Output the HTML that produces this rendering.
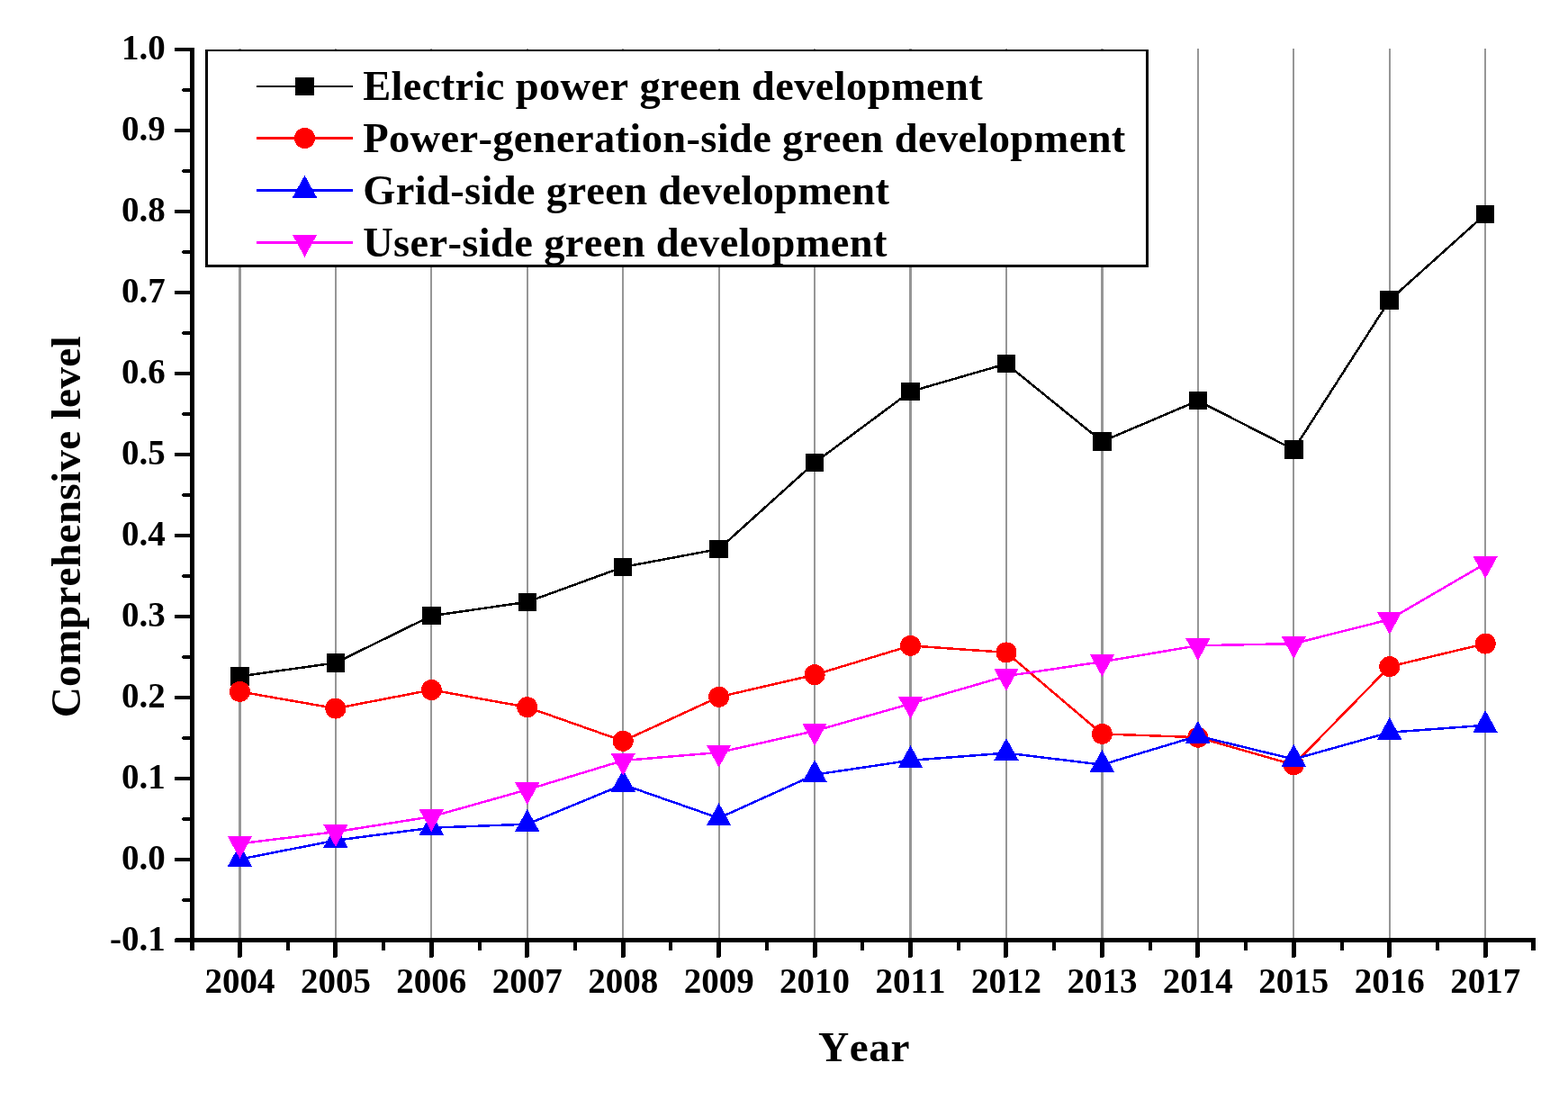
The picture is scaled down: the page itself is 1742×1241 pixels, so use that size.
<!DOCTYPE html>
<html><head><meta charset="utf-8"><title>Chart</title>
<style>html,body{margin:0;padding:0;background:#fff}svg{display:block}</style></head>
<body>
<svg width="1742" height="1241" viewBox="0 0 1742 1241" shape-rendering="crispEdges">
<rect width="1742" height="1241" fill="#fff"/>
<g stroke="#969696" stroke-width="2.3"><line x1="266.45" y1="54" x2="266.45" y2="1043"/><line x1="372.89" y1="54" x2="372.89" y2="1043"/><line x1="479.33" y1="54" x2="479.33" y2="1043"/><line x1="585.77" y1="54" x2="585.77" y2="1043"/><line x1="692.21" y1="54" x2="692.21" y2="1043"/><line x1="798.65" y1="54" x2="798.65" y2="1043"/><line x1="905.09" y1="54" x2="905.09" y2="1043"/><line x1="1011.53" y1="54" x2="1011.53" y2="1043"/><line x1="1117.97" y1="54" x2="1117.97" y2="1043"/><line x1="1224.41" y1="54" x2="1224.41" y2="1043"/><line x1="1330.85" y1="54" x2="1330.85" y2="1043"/><line x1="1437.29" y1="54" x2="1437.29" y2="1043"/><line x1="1543.73" y1="54" x2="1543.73" y2="1043"/><line x1="1650.17" y1="54" x2="1650.17" y2="1043"/></g>
<polyline fill="none" stroke="#000" stroke-width="2.5" points="266.45,751.40 372.89,736.40 479.33,684.20 585.77,668.80 692.21,630.00 798.65,610.00 905.09,514.00 1011.53,435.00 1117.97,404.20 1224.41,490.50 1330.85,445.20 1437.29,499.50 1543.73,333.50 1650.17,238.00"/>
<g fill="#000"><rect x="256.20" y="741.15" width="20.5" height="20.5"/><rect x="362.64" y="726.15" width="20.5" height="20.5"/><rect x="469.08" y="673.95" width="20.5" height="20.5"/><rect x="575.52" y="658.55" width="20.5" height="20.5"/><rect x="681.96" y="619.75" width="20.5" height="20.5"/><rect x="788.40" y="599.75" width="20.5" height="20.5"/><rect x="894.84" y="503.75" width="20.5" height="20.5"/><rect x="1001.28" y="424.75" width="20.5" height="20.5"/><rect x="1107.72" y="393.95" width="20.5" height="20.5"/><rect x="1214.16" y="480.25" width="20.5" height="20.5"/><rect x="1320.60" y="434.95" width="20.5" height="20.5"/><rect x="1427.04" y="489.25" width="20.5" height="20.5"/><rect x="1533.48" y="323.25" width="20.5" height="20.5"/><rect x="1639.92" y="227.75" width="20.5" height="20.5"/></g>
<polyline fill="none" stroke="#ff0000" stroke-width="2.5" points="266.45,768.40 372.89,787.10 479.33,766.50 585.77,785.70 692.21,823.30 798.65,774.30 905.09,749.70 1011.53,717.40 1117.97,724.90 1224.41,815.40 1330.85,819.20 1437.29,849.70 1543.73,740.60 1650.17,715.10"/>
<g fill="#ff0000"><circle cx="266.45" cy="768.40" r="11.5"/><circle cx="372.89" cy="787.10" r="11.5"/><circle cx="479.33" cy="766.50" r="11.5"/><circle cx="585.77" cy="785.70" r="11.5"/><circle cx="692.21" cy="823.30" r="11.5"/><circle cx="798.65" cy="774.30" r="11.5"/><circle cx="905.09" cy="749.70" r="11.5"/><circle cx="1011.53" cy="717.40" r="11.5"/><circle cx="1117.97" cy="724.90" r="11.5"/><circle cx="1224.41" cy="815.40" r="11.5"/><circle cx="1330.85" cy="819.20" r="11.5"/><circle cx="1437.29" cy="849.70" r="11.5"/><circle cx="1543.73" cy="740.60" r="11.5"/><circle cx="1650.17" cy="715.10" r="11.5"/></g>
<polyline fill="none" stroke="#0000ff" stroke-width="2.5" points="266.45,954.60 372.89,933.70 479.33,919.70 585.77,915.70 692.21,871.70 798.65,908.90 905.09,860.70 1011.53,844.80 1117.97,836.60 1224.41,849.60 1330.85,817.60 1437.29,843.50 1543.73,813.70 1650.17,805.80"/>
<g fill="#0000ff"><polygon points="266.45,937.90 252.85,962.60 280.05,962.60"/><polygon points="372.89,917.00 359.29,941.70 386.49,941.70"/><polygon points="479.33,903.00 465.73,927.70 492.93,927.70"/><polygon points="585.77,899.00 572.17,923.70 599.37,923.70"/><polygon points="692.21,855.00 678.61,879.70 705.81,879.70"/><polygon points="798.65,892.20 785.05,916.90 812.25,916.90"/><polygon points="905.09,844.00 891.49,868.70 918.69,868.70"/><polygon points="1011.53,828.10 997.93,852.80 1025.13,852.80"/><polygon points="1117.97,819.90 1104.37,844.60 1131.57,844.60"/><polygon points="1224.41,832.90 1210.81,857.60 1238.01,857.60"/><polygon points="1330.85,800.90 1317.25,825.60 1344.45,825.60"/><polygon points="1437.29,826.80 1423.69,851.50 1450.89,851.50"/><polygon points="1543.73,797.00 1530.13,821.70 1557.33,821.70"/><polygon points="1650.17,789.10 1636.57,813.80 1663.77,813.80"/></g>
<polyline fill="none" stroke="#ff00ff" stroke-width="2.5" points="266.45,937.30 372.89,924.20 479.33,907.30 585.77,877.30 692.21,845.00 798.65,836.00 905.09,812.10 1011.53,781.90 1117.97,751.10 1224.41,735.20 1330.85,717.30 1437.29,715.10 1543.73,688.20 1650.17,626.20"/>
<g fill="#ff00ff"><polygon points="266.45,954.00 252.85,929.30 280.05,929.30"/><polygon points="372.89,940.90 359.29,916.20 386.49,916.20"/><polygon points="479.33,924.00 465.73,899.30 492.93,899.30"/><polygon points="585.77,894.00 572.17,869.30 599.37,869.30"/><polygon points="692.21,861.70 678.61,837.00 705.81,837.00"/><polygon points="798.65,852.70 785.05,828.00 812.25,828.00"/><polygon points="905.09,828.80 891.49,804.10 918.69,804.10"/><polygon points="1011.53,798.60 997.93,773.90 1025.13,773.90"/><polygon points="1117.97,767.80 1104.37,743.10 1131.57,743.10"/><polygon points="1224.41,751.90 1210.81,727.20 1238.01,727.20"/><polygon points="1330.85,734.00 1317.25,709.30 1344.45,709.30"/><polygon points="1437.29,731.80 1423.69,707.10 1450.89,707.10"/><polygon points="1543.73,704.90 1530.13,680.20 1557.33,680.20"/><polygon points="1650.17,642.90 1636.57,618.20 1663.77,618.20"/></g>
<g fill="#000">
<rect x="211" y="53" width="5" height="1003" rx="1.5"/>
<rect x="194" y="1042" width="1512" height="5" rx="2"/>
<rect x="202.4" y="998" width="11.6" height="4" rx="1.6"/>
<rect x="194" y="953" width="20" height="4" rx="1.6"/>
<rect x="202.4" y="908" width="11.6" height="4" rx="1.6"/>
<rect x="194" y="863" width="20" height="4" rx="1.6"/>
<rect x="202.4" y="818" width="11.6" height="4" rx="1.6"/>
<rect x="194" y="773" width="20" height="4" rx="1.6"/>
<rect x="202.4" y="728" width="11.6" height="4" rx="1.6"/>
<rect x="194" y="683" width="20" height="4" rx="1.6"/>
<rect x="202.4" y="638" width="11.6" height="4" rx="1.6"/>
<rect x="194" y="593" width="20" height="4" rx="1.6"/>
<rect x="202.4" y="548" width="11.6" height="4" rx="1.6"/>
<rect x="194" y="503" width="20" height="4" rx="1.6"/>
<rect x="202.4" y="458" width="11.6" height="4" rx="1.6"/>
<rect x="194" y="413" width="20" height="4" rx="1.6"/>
<rect x="202.4" y="368" width="11.6" height="4" rx="1.6"/>
<rect x="194" y="323" width="20" height="4" rx="1.6"/>
<rect x="202.4" y="278" width="11.6" height="4" rx="1.6"/>
<rect x="194" y="233" width="20" height="4" rx="1.6"/>
<rect x="202.4" y="188" width="11.6" height="4" rx="1.6"/>
<rect x="194" y="143" width="20" height="4" rx="1.6"/>
<rect x="202.4" y="98" width="11.6" height="4" rx="1.6"/>
<rect x="194" y="53" width="20" height="4" rx="1.6"/>
<rect x="264" y="1044" width="5" height="20" rx="2"/>
<rect x="318" y="1044" width="4" height="12" rx="1.6"/>
<rect x="370" y="1044" width="5" height="20" rx="2"/>
<rect x="424" y="1044" width="4" height="12" rx="1.6"/>
<rect x="477" y="1044" width="5" height="20" rx="2"/>
<rect x="531" y="1044" width="4" height="12" rx="1.6"/>
<rect x="583" y="1044" width="5" height="20" rx="2"/>
<rect x="637" y="1044" width="4" height="12" rx="1.6"/>
<rect x="690" y="1044" width="5" height="20" rx="2"/>
<rect x="743" y="1044" width="4" height="12" rx="1.6"/>
<rect x="796" y="1044" width="5" height="20" rx="2"/>
<rect x="850" y="1044" width="4" height="12" rx="1.6"/>
<rect x="903" y="1044" width="5" height="20" rx="2"/>
<rect x="956" y="1044" width="4" height="12" rx="1.6"/>
<rect x="1009" y="1044" width="5" height="20" rx="2"/>
<rect x="1063" y="1044" width="4" height="12" rx="1.6"/>
<rect x="1115" y="1044" width="5" height="20" rx="2"/>
<rect x="1169" y="1044" width="4" height="12" rx="1.6"/>
<rect x="1222" y="1044" width="5" height="20" rx="2"/>
<rect x="1276" y="1044" width="4" height="12" rx="1.6"/>
<rect x="1328" y="1044" width="5" height="20" rx="2"/>
<rect x="1382" y="1044" width="4" height="12" rx="1.6"/>
<rect x="1435" y="1044" width="5" height="20" rx="2"/>
<rect x="1489" y="1044" width="4" height="12" rx="1.6"/>
<rect x="1541" y="1044" width="5" height="20" rx="2"/>
<rect x="1595" y="1044" width="4" height="12" rx="1.6"/>
<rect x="1648" y="1044" width="5" height="20" rx="2"/>
<rect x="1701" y="1044" width="5" height="12" rx="1.6"/>
</g>
<g font-family="Liberation Serif, Times New Roman, serif" font-weight="bold" style="font-kerning:none" font-size="39" fill="#000">
<text x="183.8" y="1056.20" text-anchor="end">-0.1</text>
<text x="183.8" y="966.18" text-anchor="end">0.0</text>
<text x="183.8" y="876.15" text-anchor="end">0.1</text>
<text x="183.8" y="786.13" text-anchor="end">0.2</text>
<text x="183.8" y="696.11" text-anchor="end">0.3</text>
<text x="183.8" y="606.08" text-anchor="end">0.4</text>
<text x="183.8" y="516.06" text-anchor="end">0.5</text>
<text x="183.8" y="426.03" text-anchor="end">0.6</text>
<text x="183.8" y="336.01" text-anchor="end">0.7</text>
<text x="183.8" y="245.99" text-anchor="end">0.8</text>
<text x="183.8" y="155.96" text-anchor="end">0.9</text>
<text x="183.8" y="65.94" text-anchor="end">1.0</text>
<text x="266.45" y="1103.3" text-anchor="middle">2004</text>
<text x="372.89" y="1103.3" text-anchor="middle">2005</text>
<text x="479.33" y="1103.3" text-anchor="middle">2006</text>
<text x="585.77" y="1103.3" text-anchor="middle">2007</text>
<text x="692.21" y="1103.3" text-anchor="middle">2008</text>
<text x="798.65" y="1103.3" text-anchor="middle">2009</text>
<text x="905.09" y="1103.3" text-anchor="middle">2010</text>
<text x="1011.53" y="1103.3" text-anchor="middle">2011</text>
<text x="1117.97" y="1103.3" text-anchor="middle">2012</text>
<text x="1224.41" y="1103.3" text-anchor="middle">2013</text>
<text x="1330.85" y="1103.3" text-anchor="middle">2014</text>
<text x="1437.29" y="1103.3" text-anchor="middle">2015</text>
<text x="1543.73" y="1103.3" text-anchor="middle">2016</text>
<text x="1650.17" y="1103.3" text-anchor="middle">2017</text>
</g>
<text font-family="Liberation Serif, Times New Roman, serif" font-weight="bold" style="font-kerning:none" font-size="47.3" letter-spacing="0.6" x="960" y="1179.1" text-anchor="middle">Year</text>
<text font-family="Liberation Serif, Times New Roman, serif" font-weight="bold" style="font-kerning:none" font-size="47.3" letter-spacing="0.28" transform="translate(88.5,585.2) rotate(-90)" text-anchor="middle">Comprehensive level</text>
<rect x="228" y="55" width="1048" height="242" fill="#000"/><rect x="231" y="57" width="1042" height="237" fill="#fff"/>
<line x1="285" y1="95.9" x2="392" y2="95.9" stroke="#000" stroke-width="2.5"/>
<g fill="#000"><rect x="328.25" y="85.65" width="20.5" height="20.5"/></g>
<text font-family="Liberation Serif, Times New Roman, serif" font-weight="bold" style="font-kerning:none" font-size="46.5" letter-spacing="0.34" x="403.2" y="110.9">Electric power green development</text>
<line x1="285" y1="153.5" x2="392" y2="153.5" stroke="#ff0000" stroke-width="2.5"/>
<g fill="#ff0000"><circle cx="338.50" cy="153.50" r="11.5"/></g>
<text font-family="Liberation Serif, Times New Roman, serif" font-weight="bold" style="font-kerning:none" font-size="46.5" letter-spacing="0.34" x="403.2" y="168.5">Power-generation-side green development</text>
<line x1="285" y1="211.5" x2="392" y2="211.5" stroke="#0000ff" stroke-width="2.5"/>
<g fill="#0000ff"><polygon points="338.50,194.80 324.90,219.50 352.10,219.50"/></g>
<text font-family="Liberation Serif, Times New Roman, serif" font-weight="bold" style="font-kerning:none" font-size="46.5" letter-spacing="0.34" x="403.2" y="227.1">Grid-side green development</text>
<line x1="285" y1="269.5" x2="392" y2="269.5" stroke="#ff00ff" stroke-width="2.5"/>
<g fill="#ff00ff"><polygon points="338.50,285.60 324.90,260.90 352.10,260.90"/></g>
<text font-family="Liberation Serif, Times New Roman, serif" font-weight="bold" style="font-kerning:none" font-size="46.5" letter-spacing="0.34" x="403.2" y="285.0">User-side green development</text>
</svg>
</body></html>
